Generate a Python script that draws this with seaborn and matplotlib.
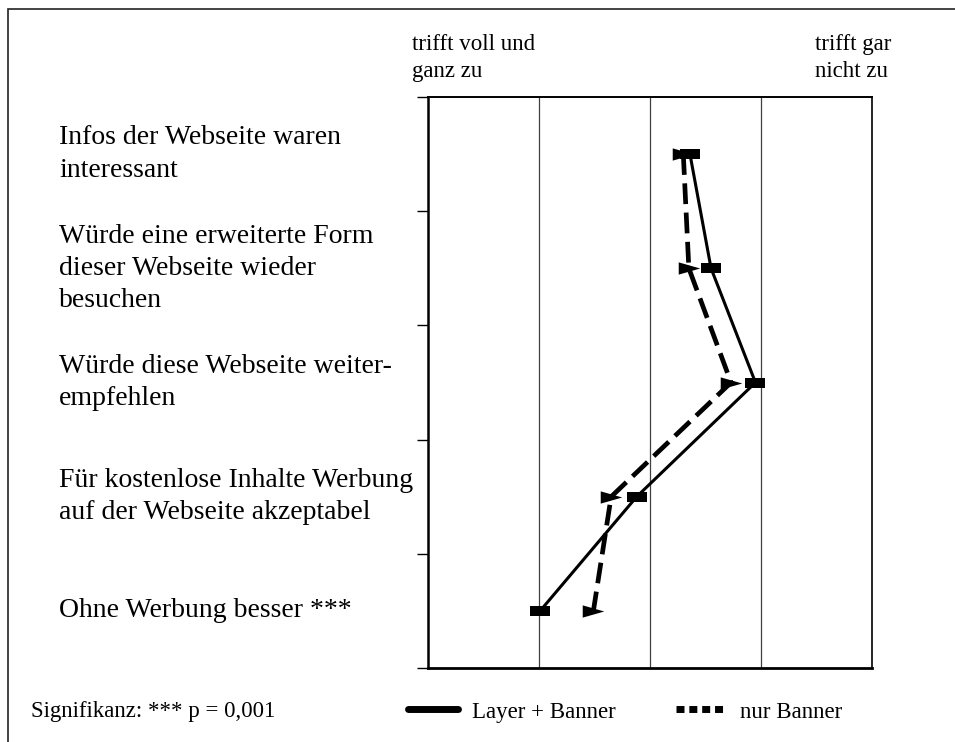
import matplotlib
matplotlib.use('Agg')
import matplotlib.pyplot as plt
import matplotlib.transforms as mtrans
from matplotlib.lines import Line2D
from matplotlib.patches import Rectangle
import seaborn as sns
import pandas as pd

# Aussagen (von oben nach unten)
aussagen = [
    'Infos der Webseite waren\ninteressant',
    'Würde eine erweiterte Form\ndieser Webseite wieder\nbesuchen',
    'Würde diese Webseite weiter-\nempfehlen',
    'Für kostenlose Inhalte Werbung\nauf der Webseite akzeptabel',
    'Ohne Werbung besser ***',
]
# Mittelwerte, Skala 1 (trifft voll und ganz zu) bis 5 (trifft gar nicht zu)
layer_banner = [3.36, 3.55, 3.95, 2.88, 2.01]
nur_banner = [3.30, 3.35, 3.73, 2.65, 2.49]
gruppen = ['nur Banner', 'Layer + Banner']
skala_links = 'trifft voll und\nganz zu'
skala_rechts = 'trifft gar\nnicht zu'
fussnote = 'Signifikanz: *** p = 0,001'

pos = [i + 0.5 for i in range(len(aussagen))]
df = pd.DataFrame({
    'Wert': nur_banner + layer_banner,
    'Position': pos + pos,
    'Gruppe': [gruppen[0]] * len(pos) + [gruppen[1]] * len(pos),
})

sns.set_style('white')
plt.rcParams['font.family'] = ['Liberation Serif', 'DejaVu Serif']
plt.rcParams['text.color'] = 'black'

W, H = 955, 742
fig = plt.figure(figsize=(W / 100, H / 100), dpi=100)
ax = fig.add_axes([428 / W, 1 - 668 / H, 444 / W, 571 / H])

rechteck = [(-1, -0.5), (1, -0.5), (1, 0.5), (-1, 0.5), (-1, -0.5)]
dreieck = [(-1, -0.57), (1, 0), (-1, 0.57), (-1, -0.57)]

sns.lineplot(data=df, x='Wert', y='Position', hue='Gruppe', style='Gruppe',
             size='Gruppe', hue_order=gruppen, style_order=gruppen, size_order=gruppen,
             palette={g: 'black' for g in gruppen},
             sizes={'nur Banner': 3.4, 'Layer + Banner': 2.2},
             dashes={'nur Banner': (4.4, 1.8), 'Layer + Banner': ''},
             markers={'nur Banner': dreieck, 'Layer + Banner': rechteck},
             orient='y', errorbar=None, legend=False,
             markeredgewidth=0, ax=ax)
ax.lines[0].set_markersize(15.5)
ax.lines[1].set_markersize(13.7)
ax.lines[1].set_zorder(3)

ax.set_xlim(1, 5)
ax.set_ylim(5, 0)
ax.set_xticks([])
ax.set_yticks(range(6))
ax.set_yticklabels([])
ax.tick_params(axis='y', direction='out', length=8, width=1, color='black', left=True)
ax.set_xlabel('')
ax.set_ylabel('')
for x in [2, 3, 4]:
    ax.axvline(x, color='#404040', lw=0.9, zorder=0)
for side, lw in [('left', 1.8), ('bottom', 2.0), ('top', 1.4), ('right', 1.2)]:
    ax.spines[side].set_visible(True)
    ax.spines[side].set_color('black')
    ax.spines[side].set_linewidth(lw)

trans = mtrans.blended_transform_factory(fig.transFigure, ax.transData)
for p, txt in zip(pos, aussagen):
    ax.text(59 / W, p, txt, transform=trans, ha='left', va='center',
            fontsize=20, linespacing=1.38)

fig.text(412 / W, 1 - 58 / H, skala_links, ha='left', va='center',
         fontsize=16.5, linespacing=1.35)
fig.text(815 / W, 1 - 58 / H, skala_rechts, ha='left', va='center',
         fontsize=16.5, linespacing=1.35)
fig.text(31 / W, 1 - 712 / H, fussnote, ha='left', va='center', fontsize=16.5)

griffe = [
    Line2D([], [], color='black', lw=5, solid_capstyle='round'),
    Line2D([], [], color='black', lw=5, dashes=(1.15, 0.7), dash_capstyle='butt'),
]
fig.legend(griffe, ['Layer + Banner', 'nur Banner'], loc='center left',
           bbox_to_anchor=(408 / W, 1 - 712 / H), ncol=2, frameon=False,
           fontsize=16.5, handlelength=2.2, handletextpad=0.6,
           columnspacing=2.6, borderpad=0, borderaxespad=0)

fig.add_artist(Rectangle((8 / W, -0.1), 1.2, (H - 9) / H + 0.1,
                         transform=fig.transFigure, fill=False,
                         edgecolor='#222222', lw=1.2))

fig.savefig('out.png', dpi=100)
